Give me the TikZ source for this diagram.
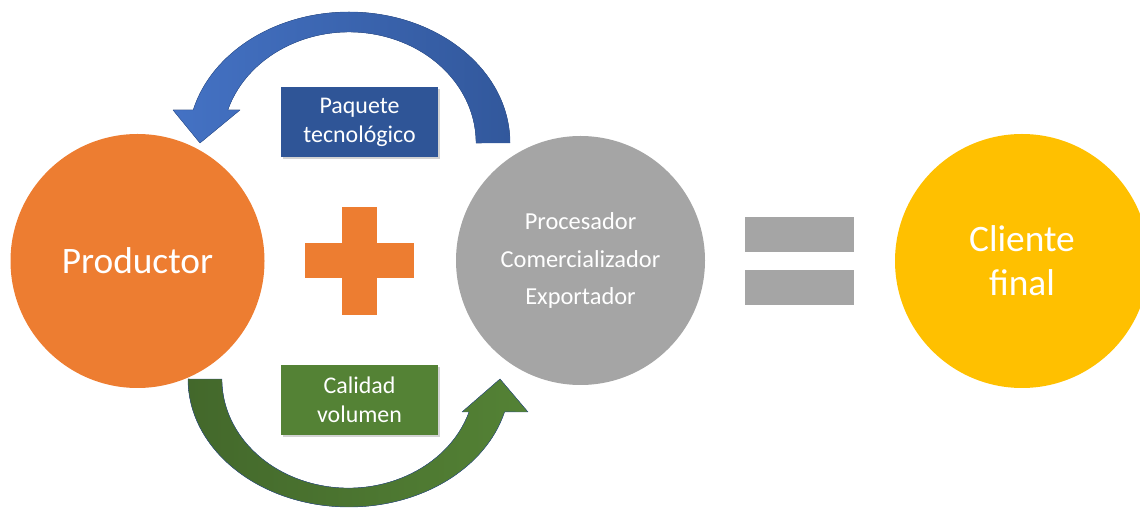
\documentclass[tikz,border=0pt]{standalone}
\usepackage{fontspec}
\setmainfont{Carlito}
\usetikzlibrary{positioning, arrows, shadows}
\definecolor{prodorange}{RGB}{237,125,49}
\definecolor{procgrey}{RGB}{165,165,165}
\definecolor{clientyellow}{RGB}{255,192,0}
\definecolor{boxblue}{RGB}{47,85,151}
\definecolor{boxgreen}{RGB}{84,130,53}
\definecolor{arrowblueA}{RGB}{68,114,196}
\definecolor{arrowblueB}{RGB}{50,88,156}
\definecolor{arrowgreenA}{RGB}{67,104,43}
\definecolor{arrowgreenB}{RGB}{84,130,53}
\definecolor{arrowedge}{RGB}{47,82,143}

\begin{document}
\begin{tikzpicture}[>=latex',line join=bevel,
    circnode/.style={circle,inner sep=0pt,text=white,align=center},
    boxnode/.style={rectangle,inner sep=0pt,minimum width=157bp,minimum height=70bp,
      text=white,align=center,font=\fontsize{24}{29}\selectfont,
      drop shadow={opacity=0.35,shadow xshift=1.5bp,shadow yshift=-2.5bp}},
    barnode/.style={rectangle,inner sep=0pt}]
  %%
  \useasboundingbox (0bp,0bp) rectangle (1140bp,508bp);
  %% the three actors
  \node (prod) at (137.5bp,247bp) [circnode,fill=prodorange,minimum size=254bp,
    font=\fontsize{37.5}{44}\selectfont] {Productor};
  \node (proc) at (580.5bp,247.5bp) [circnode,fill=procgrey,minimum size=249bp,
    font=\fontsize{24.5}{38}\selectfont] {Procesador\\Comercializador\\Exportador};
  \node (cliente) at (1022bp,247bp) [circnode,fill=clientyellow,minimum size=254bp,
    font=\fontsize{37.5}{44}\selectfont] {Cliente\\final};
  %% plus and equals
  \node (plusv) at (359.5bp,247bp) [barnode,fill=prodorange,minimum width=35bp,minimum height=108bp] {};
  \node (plush) at (359.5bp,247.5bp) [barnode,fill=prodorange,minimum width=109bp,minimum height=35bp] {};
  \node (equA) at (799.5bp,273.5bp) [barnode,fill=procgrey,minimum width=109bp,minimum height=35bp] {};
  \node (equB) at (799.5bp,220.5bp) [barnode,fill=procgrey,minimum width=109bp,minimum height=35bp] {};
  %% curved arrows
  \coordinate (topc) at (349bp,365bp);
  \coordinate (botc) at (349bp,129bp);
  \filldraw [left color=arrowblueA,right color=arrowblueB,draw=arrowblueB,line width=0.4bp]
    ([xshift=161bp]topc) arc[start angle=0,end angle=165.4,x radius=161bp,y radius=131bp]
    -- (173bp,398bp) -- (200bp,365bp) -- (240bp,398bp) -- (227.8bp,398bp)
    arc[start angle=162.7,end angle=0,x radius=127bp,y radius=111bp] -- cycle;
  \filldraw [left color=arrowgreenA,right color=arrowgreenB,draw=arrowedge,line width=0.4bp]
    ([xshift=-161bp]botc) arc[start angle=180,end angle=345.1,x radius=161bp,y radius=128bp]
    -- (528bp,96bp) -- (500bp,129bp) -- (462bp,96bp) -- (469bp,96bp)
    arc[start angle=342.4,end angle=180,x radius=126.5bp,y radius=109bp] -- cycle;
  %% flow labels
  \node (paquete) at (359.5bp,386bp) [boxnode,fill=boxblue] {Paquete\\tecnológico};
  \node (calidad) at (359.5bp,108bp) [boxnode,fill=boxgreen] {Calidad\\volumen};
\end{tikzpicture}
\end{document}
